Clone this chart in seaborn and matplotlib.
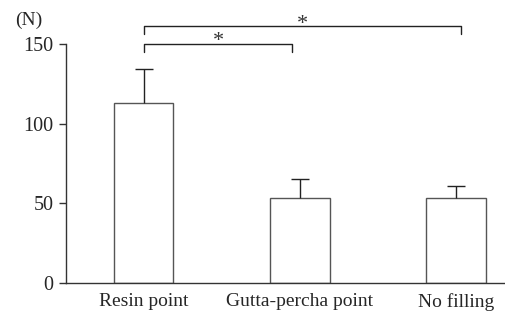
import numpy as np
import pandas as pd
import seaborn as sns
import matplotlib
matplotlib.use("Agg")
import matplotlib.pyplot as plt

groups = ["Resin point", "Gutta-percha point", "No filling"]
means = [113, 53.5, 53.5]
sd = [21, 11.5, 7.5]

# significance brackets: (start group, end group, bracket height, star label)
brackets = [(0, 0.95, 150, "*"), (0, 2.03, 161, "*")]

sns.set_style("ticks")
plt.rcParams['font.family'] = ['Liberation Serif', 'DejaVu Serif']

df = pd.DataFrame({"group": groups, "force": means})

fig = plt.figure(figsize=(5.06, 3.14), dpi=100)
ax = fig.add_axes([0.130, 0.0987, 0.87, 0.7613])

sns.barplot(data=df, x="group", y="force", color="white", edgecolor="#555555",
            linewidth=1.0, width=0.38, errorbar=None, ax=ax)

# one-sided (upper) error bars
pos = np.arange(len(groups))
tops = np.array(means) + np.array(sd)
ax.vlines(pos, means, tops, color="#222222", lw=1.0, zorder=1)
ax.hlines(tops, pos - 0.058, pos + 0.058, color="#222222", lw=1.0, zorder=1)

ax.set_xlim(-0.5, 2.32)
ax.set_ylim(0, 150)
ax.set_yticks([0, 50, 100, 150])
ax.set_xlabel("")
ax.set_ylabel("")
ax.tick_params(axis="y", length=5, width=1, color="#333333", labelsize=14.5, pad=4)
ax.tick_params(axis="x", length=0, labelsize=14, pad=7)
for s in ["top", "right"]:
    ax.spines[s].set_visible(False)
for s in ["left", "bottom"]:
    ax.spines[s].set_color("#333333")
    ax.spines[s].set_linewidth(1.0)

for x0, x1, h, lab in brackets:
    ax.plot([x0, x0, x1, x1], [h - 5, h, h, h - 5], color="#222222", lw=1.0, clip_on=False)
    ax.text((x0 + x1) / 2, h - 4.5, lab, ha="center", va="bottom", fontsize=16, color="#333333")

ax.text(-0.085, 1.098, "(N)", transform=ax.transAxes, ha="center", va="center", fontsize=14)

fig.savefig("out.png", dpi=100)
